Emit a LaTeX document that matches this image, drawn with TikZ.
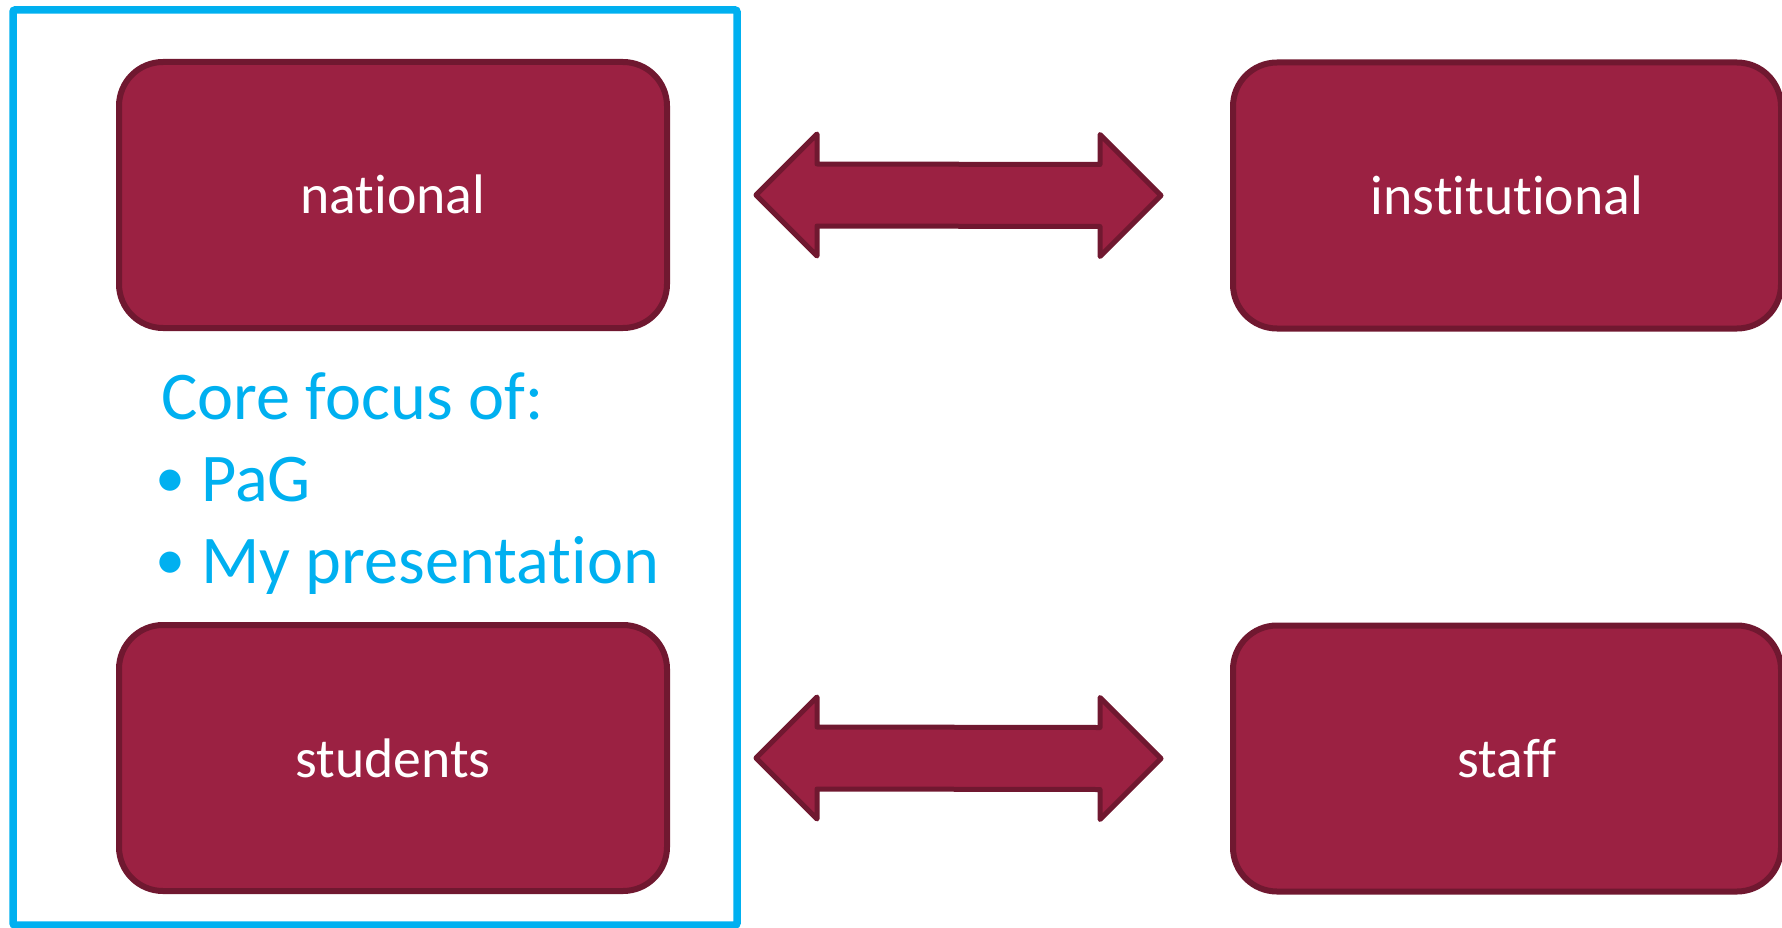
\documentclass[tikz,border=0pt]{standalone}
\usepackage{fontspec}
\setmainfont{Carlito}[Ligatures=NoCommon]
\usetikzlibrary{calc}
\definecolor{wine}{RGB}{155,33,66}
\definecolor{wineedge}{RGB}{112,24,48}
\definecolor{skyblue}{RGB}{0,176,240}
\newcommand\itemdot{\makebox[46pt][l]{\raisebox{4pt}{\fontsize{60}{82}\selectfont •}}}
\begin{document}
\begin{tikzpicture}[x=1pt,y=-1pt,
  levelbox/.style={draw=wineedge, fill=wine, line width=6pt, rounded corners=44pt,
    minimum width=548pt, minimum height=266pt, inner sep=0pt,
    text=white, font=\fontsize{55.7}{66}\selectfont, text height=38pt, text depth=0pt},
  twoway/.style={draw=wineedge, fill=wine, line width=5pt, line join=round},
  focusframe/.style={draw=skyblue, line width=7.5pt, rounded corners=2pt},
  focustext/.style={text=skyblue, font=\fontsize{68.3}{82}\selectfont,
    anchor=base west, inner sep=0pt}]
\useasboundingbox (0,0) rectangle (1782,928);

% frame around the left column
\draw[focusframe] (13,10) rectangle (737,925);

% the four levels
\node[levelbox] (nat)   at (393,195)    {national};
\node[levelbox] (inst)  at (1507,195.5) {institutional};
\node[levelbox] (stud)  at (393,758)    {students};
\node[levelbox] (staff) at (1507,758.5) {staff};

% two-way block arrows between the columns
\coordinate (t1) at ($(nat.east)+(86,0)$);
\coordinate (t2) at ($(inst.west)+(-69,0)$);
\draw[twoway] (t1) -- ++(61,-61) -- ++(0,30) -- ($(t2)+(-61,-31)$) -- ++(0,-30)
  -- (t2) -- ++(-61,61) -- ++(0,-30) -- ($(t1)+(61,31)$) -- ++(0,30) -- cycle;
\coordinate (b1) at ($(stud.east)+(86,0)$);
\coordinate (b2) at ($(staff.west)+(-69,0)$);
\draw[twoway] (b1) -- ++(61,-61) -- ++(0,30) -- ($(b2)+(-61,-31)$) -- ++(0,-30)
  -- (b2) -- ++(-61,61) -- ++(0,-30) -- ($(b1)+(61,31)$) -- ++(0,30) -- cycle;

% focus note
\node[focustext] (core) at (161,419) {Core focus of:};
\node[focustext] (pag)  at (155,501.7) {\itemdot PaG};
\node[focustext] (mine) at (155,583) {\itemdot My presentation};
\end{tikzpicture}
\end{document}
